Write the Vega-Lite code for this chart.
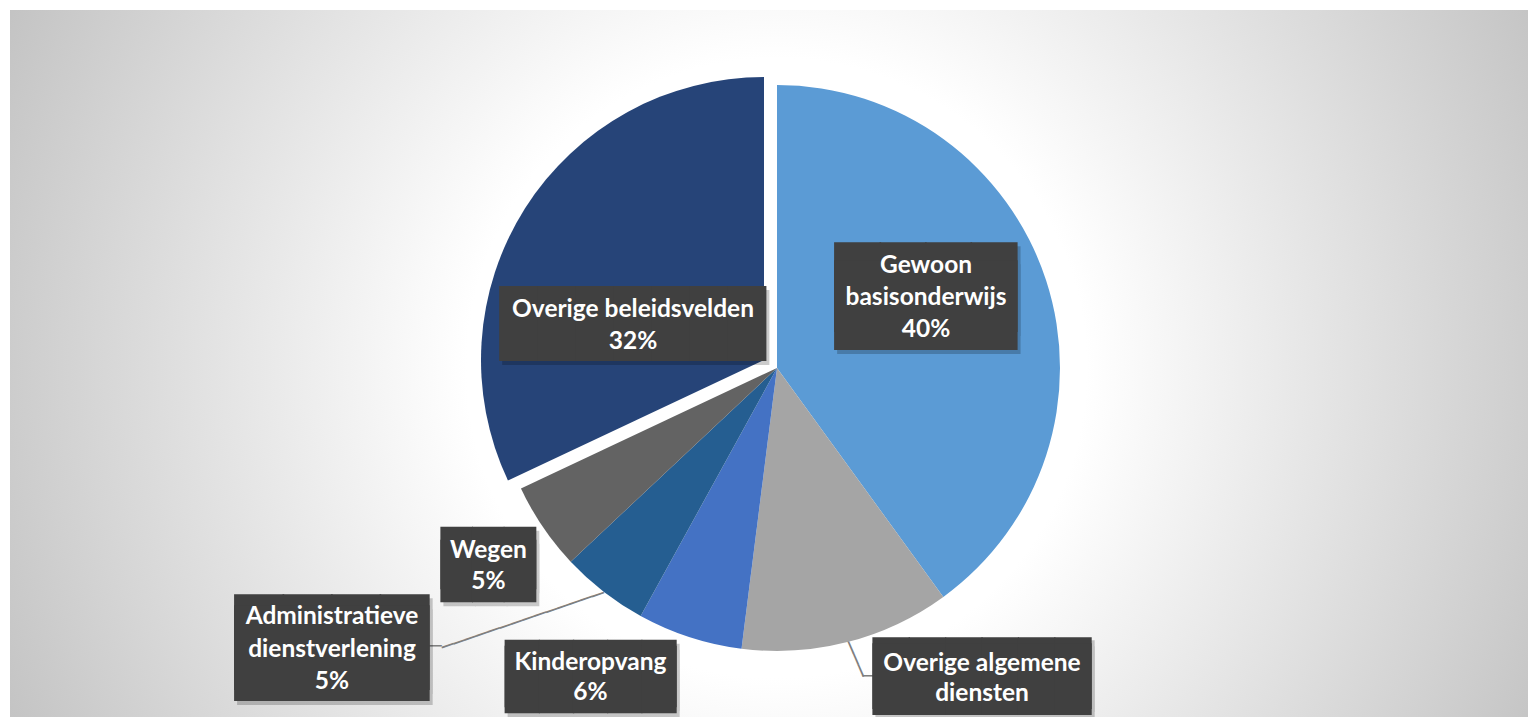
{
  "$schema": "https://vega.github.io/schema/vega-lite/v6.json",
  "width": 1518,
  "height": 707,
  "autosize": {"type": "none"},
  "padding": {"left": 10, "top": 10, "right": 0, "bottom": 0},
  "background": "#ffffff",
  "config": {"view": {"stroke": null}},
  "data": {"values": [
    {"cat": "Gewoon basisonderwijs", "pct": 40, "order": 1, "label": "Gewoon\nbasisonderwijs\n40%"},
    {"cat": "Overige algemene diensten", "pct": 12, "order": 2, "label": "Overige algemene\ndiensten"},
    {"cat": "Kinderopvang", "pct": 6, "order": 3, "label": "Kinderopvang\n6%"},
    {"cat": "Administratieve dienstverlening", "pct": 5, "order": 4, "label": "Administratieve\ndienstverlening\n5%"},
    {"cat": "Wegen", "pct": 5, "order": 5, "label": "Wegen\n5%"},
    {"cat": "Overige beleidsvelden", "pct": 32, "order": 6, "label": "Overige beleidsvelden\n32%"}
  ]},
  "layer": [
    {
      "data": {"values": [{}]},
      "mark": {"type": "rect", "fill": {"gradient": "radial", "x1": 0.505, "y1": 0.503, "r1": 0, "x2": 0.505, "y2": 0.503, "r2": 0.567, "stops": [{"offset": 0, "color": "#ffffff"}, {"offset": 0.36, "color": "#ffffff"}, {"offset": 1, "color": "#c2c2c2"}]}},
      "encoding": {}
    },
    {
      "mark": {"type": "arc", "outerRadius": 283, "xOffset": 8, "yOffset": 4.5},
      "encoding": {
        "theta": {"field": "pct", "type": "quantitative", "stack": true},
        "order": {"field": "order"},
        "color": {"field": "cat", "type": "nominal", "legend": null, "scale": {"domain": ["Gewoon basisonderwijs", "Overige algemene diensten", "Kinderopvang", "Administratieve dienstverlening", "Wegen", "Overige beleidsvelden"], "range": ["#5b9bd5", "#a5a5a5", "#4472c4", "#255e91", "#636363", "#264478"]}},
        "opacity": {"condition": {"test": "datum.cat === 'Overige beleidsvelden'", "value": 0}, "value": 1}
      }
    },
    {
      "mark": {"type": "arc", "outerRadius": 283, "xOffset": -5, "yOffset": -3.5},
      "encoding": {
        "theta": {"field": "pct", "type": "quantitative", "stack": true},
        "order": {"field": "order"},
        "color": {"field": "cat", "type": "nominal", "legend": null},
        "opacity": {"condition": {"test": "datum.cat === 'Overige beleidsvelden'", "value": 1}, "value": 0}
      }
    },
    {
      "mark": {"type": "text", "radius": 283, "xOffset": 8, "yOffset": 4.5, "angle": 66.8, "align": "left", "baseline": "middle", "font": "DejaVu Sans Mono", "fontSize": 21, "fill": "#7f7f7f"},
      "encoding": {
        "theta": {"field": "pct", "type": "quantitative", "stack": true},
        "order": {"field": "order"},
        "text": {"condition": {"test": "datum.cat === 'Overige algemene diensten'", "value": "───"}, "value": ""}
      }
    },
    {
      "mark": {"type": "text", "radius": 283, "xOffset": 23, "yOffset": 39.5, "angle": 0, "align": "left", "baseline": "middle", "font": "DejaVu Sans Mono", "fontSize": 18, "fill": "#7f7f7f"},
      "encoding": {
        "theta": {"field": "pct", "type": "quantitative", "stack": true},
        "order": {"field": "order"},
        "text": {"condition": {"test": "datum.cat === 'Overige algemene diensten'", "value": "──"}, "value": ""}
      }
    },
    {
      "mark": {"type": "text", "radius": 283, "xOffset": 8, "yOffset": 4.5, "angle": 161.2, "align": "left", "baseline": "middle", "font": "DejaVu Sans Mono", "fontSize": 20.3, "fill": "#7f7f7f"},
      "encoding": {
        "theta": {"field": "pct", "type": "quantitative", "stack": true},
        "order": {"field": "order"},
        "text": {"condition": {"test": "datum.cat === 'Administratieve dienstverlening'", "value": "──────────────"}, "value": ""}
      }
    },
    {
      "mark": {"type": "text", "radius": 283, "xOffset": -153.9, "yOffset": 59.6, "angle": 0, "align": "right", "baseline": "middle", "font": "DejaVu Sans Mono", "fontSize": 18, "fill": "#7f7f7f"},
      "encoding": {
        "theta": {"field": "pct", "type": "quantitative", "stack": true},
        "order": {"field": "order"},
        "text": {"condition": {"test": "datum.cat === 'Administratieve dienstverlening'", "value": "──"}, "value": ""}
      }
    },
    {
      "mark": {"type": "text", "radius": 171, "dx": -2.6, "dy": -16.2, "align": "center", "baseline": "middle", "font": "DejaVu Sans Mono", "fontSize": 75.6, "lineHeight": 18, "lineBreak": "\n", "fill": "#000000", "opacity": 0.2},
      "encoding": {
        "theta": {"field": "pct", "type": "quantitative", "stack": true},
        "order": {"field": "order"},
        "text": {"condition": {"test": "datum.cat === 'Gewoon basisonderwijs'", "value": "████\n████"}, "value": ""}
      }
    },
    {
      "mark": {"type": "text", "radius": 142, "dx": -13.1, "dy": 43, "align": "center", "baseline": "middle", "font": "DejaVu Sans Mono", "fontSize": 63.1, "lineHeight": 18, "lineBreak": "\n", "fill": "#000000", "opacity": 0.2},
      "encoding": {
        "theta": {"field": "pct", "type": "quantitative", "stack": true},
        "order": {"field": "order"},
        "text": {"condition": {"test": "datum.cat === 'Overige beleidsvelden'", "value": "███████"}, "value": ""}
      }
    },
    {
      "mark": {"type": "text", "radius": 345, "dx": 7.8, "dy": 6.6, "align": "center", "baseline": "middle", "font": "DejaVu Sans Mono", "fontSize": 52.6, "lineHeight": 12.8, "lineBreak": "\n", "fill": "#000000", "opacity": 0.2},
      "encoding": {
        "theta": {"field": "pct", "type": "quantitative", "stack": true},
        "order": {"field": "order"},
        "text": {"condition": {"test": "datum.cat === 'Wegen'", "value": "███\n███"}, "value": ""}
      }
    },
    {
      "mark": {"type": "text", "radius": 450, "dx": -158.2, "dy": -69.5, "align": "center", "baseline": "middle", "font": "DejaVu Sans Mono", "fontSize": 80.6, "lineHeight": 11.2, "lineBreak": "\n", "fill": "#000000", "opacity": 0.2},
      "encoding": {
        "theta": {"field": "pct", "type": "quantitative", "stack": true},
        "order": {"field": "order"},
        "text": {"condition": {"test": "datum.cat === 'Administratieve dienstverlening'", "value": "████\n████"}, "value": ""}
      }
    },
    {
      "mark": {"type": "text", "radius": 361, "dx": -64, "dy": -27.2, "align": "center", "baseline": "middle", "font": "DejaVu Sans Mono", "fontSize": 56.8, "lineHeight": 5.9, "lineBreak": "\n", "fill": "#000000", "opacity": 0.2},
      "encoding": {
        "theta": {"field": "pct", "type": "quantitative", "stack": true},
        "order": {"field": "order"},
        "text": {"condition": {"test": "datum.cat === 'Kinderopvang'", "value": "█████\n█████"}, "value": ""}
      }
    },
    {
      "mark": {"type": "text", "radius": 393, "dx": 118.3, "dy": -65.3, "align": "center", "baseline": "middle", "font": "DejaVu Sans Mono", "fontSize": 60.4, "lineHeight": 5.8, "lineBreak": "\n", "fill": "#000000", "opacity": 0.2},
      "encoding": {
        "theta": {"field": "pct", "type": "quantitative", "stack": true},
        "order": {"field": "order"},
        "text": {"condition": {"test": "datum.cat === 'Overige algemene diensten'", "value": "██████\n██████"}, "value": ""}
      }
    },
    {
      "mark": {"type": "text", "radius": 171, "dx": -5.6, "dy": -20.2, "align": "center", "baseline": "middle", "font": "DejaVu Sans Mono", "fontSize": 75.6, "lineHeight": 18, "lineBreak": "\n", "fill": "#404040"},
      "encoding": {
        "theta": {"field": "pct", "type": "quantitative", "stack": true},
        "order": {"field": "order"},
        "text": {"condition": {"test": "datum.cat === 'Gewoon basisonderwijs'", "value": "████\n████"}, "value": ""}
      }
    },
    {
      "mark": {"type": "text", "radius": 142, "dx": -16.1, "dy": 39, "align": "center", "baseline": "middle", "font": "DejaVu Sans Mono", "fontSize": 63.1, "lineHeight": 18, "lineBreak": "\n", "fill": "#404040"},
      "encoding": {
        "theta": {"field": "pct", "type": "quantitative", "stack": true},
        "order": {"field": "order"},
        "text": {"condition": {"test": "datum.cat === 'Overige beleidsvelden'", "value": "███████"}, "value": ""}
      }
    },
    {
      "mark": {"type": "text", "radius": 345, "dx": 4.8, "dy": 2.6, "align": "center", "baseline": "middle", "font": "DejaVu Sans Mono", "fontSize": 52.6, "lineHeight": 12.8, "lineBreak": "\n", "fill": "#404040"},
      "encoding": {
        "theta": {"field": "pct", "type": "quantitative", "stack": true},
        "order": {"field": "order"},
        "text": {"condition": {"test": "datum.cat === 'Wegen'", "value": "███\n███"}, "value": ""}
      }
    },
    {
      "mark": {"type": "text", "radius": 450, "dx": -161.2, "dy": -73.5, "align": "center", "baseline": "middle", "font": "DejaVu Sans Mono", "fontSize": 80.6, "lineHeight": 11.2, "lineBreak": "\n", "fill": "#404040"},
      "encoding": {
        "theta": {"field": "pct", "type": "quantitative", "stack": true},
        "order": {"field": "order"},
        "text": {"condition": {"test": "datum.cat === 'Administratieve dienstverlening'", "value": "████\n████"}, "value": ""}
      }
    },
    {
      "mark": {"type": "text", "radius": 361, "dx": -67, "dy": -31.2, "align": "center", "baseline": "middle", "font": "DejaVu Sans Mono", "fontSize": 56.8, "lineHeight": 5.9, "lineBreak": "\n", "fill": "#404040"},
      "encoding": {
        "theta": {"field": "pct", "type": "quantitative", "stack": true},
        "order": {"field": "order"},
        "text": {"condition": {"test": "datum.cat === 'Kinderopvang'", "value": "█████\n█████"}, "value": ""}
      }
    },
    {
      "mark": {"type": "text", "radius": 393, "dx": 115.3, "dy": -68.3, "align": "center", "baseline": "middle", "font": "DejaVu Sans Mono", "fontSize": 60.4, "lineHeight": 5.8, "lineBreak": "\n", "fill": "#404040"},
      "encoding": {
        "theta": {"field": "pct", "type": "quantitative", "stack": true},
        "order": {"field": "order"},
        "text": {"condition": {"test": "datum.cat === 'Overige algemene diensten'", "value": "██████\n██████"}, "value": ""}
      }
    },
    {
      "mark": {"type": "text", "radius": 171, "dx": -5.6, "dy": -44.7, "align": "center", "baseline": "middle", "font": "Lato", "fontWeight": "bold", "fontSize": 24.5, "lineHeight": 32, "lineBreak": "\n", "fill": "#ffffff"},
      "encoding": {
        "theta": {"field": "pct", "type": "quantitative", "stack": true},
        "order": {"field": "order"},
        "text": {"condition": {"test": "datum.cat === 'Gewoon basisonderwijs'", "field": "label", "type": "nominal"}, "value": ""}
      }
    },
    {
      "mark": {"type": "text", "radius": 142, "dx": -16.1, "dy": 22.1, "align": "center", "baseline": "middle", "font": "Lato", "fontWeight": "bold", "fontSize": 24.5, "lineHeight": 32, "lineBreak": "\n", "fill": "#ffffff"},
      "encoding": {
        "theta": {"field": "pct", "type": "quantitative", "stack": true},
        "order": {"field": "order"},
        "text": {"condition": {"test": "datum.cat === 'Overige beleidsvelden'", "field": "label", "type": "nominal"}, "value": ""}
      }
    },
    {
      "mark": {"type": "text", "radius": 345, "dx": 4.8, "dy": -6.4, "align": "center", "baseline": "middle", "font": "Lato", "fontWeight": "bold", "fontSize": 24.5, "lineHeight": 31, "lineBreak": "\n", "fill": "#ffffff"},
      "encoding": {
        "theta": {"field": "pct", "type": "quantitative", "stack": true},
        "order": {"field": "order"},
        "text": {"condition": {"test": "datum.cat === 'Wegen'", "field": "label", "type": "nominal"}, "value": ""}
      }
    },
    {
      "mark": {"type": "text", "radius": 450, "dx": -161.2, "dy": -101.6, "align": "center", "baseline": "middle", "font": "Lato", "fontWeight": "bold", "fontSize": 24.5, "lineHeight": 32.5, "lineBreak": "\n", "fill": "#ffffff"},
      "encoding": {
        "theta": {"field": "pct", "type": "quantitative", "stack": true},
        "order": {"field": "order"},
        "text": {"condition": {"test": "datum.cat === 'Administratieve dienstverlening'", "field": "label", "type": "nominal"}, "value": ""}
      }
    },
    {
      "mark": {"type": "text", "radius": 361, "dx": -67, "dy": -43.8, "align": "center", "baseline": "middle", "font": "Lato", "fontWeight": "bold", "fontSize": 24.5, "lineHeight": 30, "lineBreak": "\n", "fill": "#ffffff"},
      "encoding": {
        "theta": {"field": "pct", "type": "quantitative", "stack": true},
        "order": {"field": "order"},
        "text": {"condition": {"test": "datum.cat === 'Kinderopvang'", "field": "label", "type": "nominal"}, "value": ""}
      }
    },
    {
      "mark": {"type": "text", "radius": 393, "dx": 115.3, "dy": -79.7, "align": "center", "baseline": "middle", "font": "Lato", "fontWeight": "bold", "fontSize": 24.5, "lineHeight": 30, "lineBreak": "\n", "fill": "#ffffff"},
      "encoding": {
        "theta": {"field": "pct", "type": "quantitative", "stack": true},
        "order": {"field": "order"},
        "text": {"condition": {"test": "datum.cat === 'Overige algemene diensten'", "field": "label", "type": "nominal"}, "value": ""}
      }
    }
  ]
}
